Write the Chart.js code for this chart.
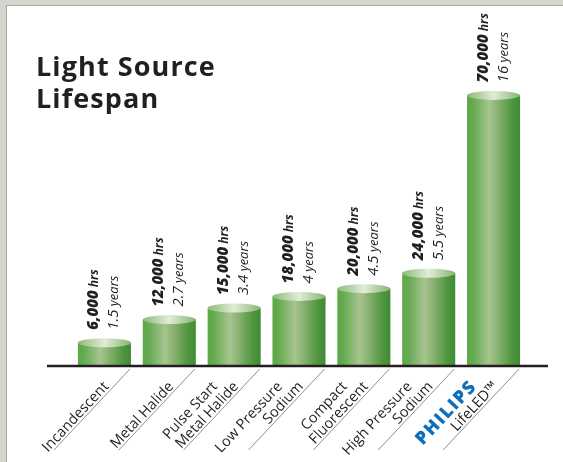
<!DOCTYPE html>
<html>
<head>
<meta charset="utf-8">
<script src="https://cdn.jsdelivr.net/npm/chart.js@4"></script>
<style>
  html, body { margin: 0; padding: 0; }
  body { width: 563px; height: 462px; background: #d3d6cd; position: relative; overflow: hidden; }
  #panel {
    position: absolute; left: 6px; top: 5px; right: 0; bottom: 0;
    background: #fff; border-left: 1px solid #a7aaa3; border-top: 1px solid #a7aaa3;
  }
  #wrap { position: absolute; left: 0; top: 0; width: 563px; height: 462px; }
</style>
</head>
<body>
<div id="panel"></div>
<div id="wrap"><canvas id="chart" width="563" height="462"></canvas></div>
<script>
// data
const categories = [
    ['Incandescent'],
    ['Metal Halide'],
    ['Pulse Start', 'Metal Halide'],
    ['Low Pressure', 'Sodium'],
    ['Compact', 'Fluorescent'],
    ['High Pressure', 'Sodium'],
    ['PHILIPS', 'LifeLED™']
];
const hours = [6000, 12000, 15000, 18000, 20000, 24000, 70000];
const years = ['1.5', '2.7', '3.4', '4', '4.5', '5.5', '16'];
const titleLines = ['Light Source', 'Lifespan'];

const FONT = '"Open Sans", "Liberation Sans", sans-serif';
const ANGLE = -47 * Math.PI / 180;

// cylinders, baseline, value labels, category labels, title
const decorPlugin = {
    id: 'decor',
    afterDatasetsDraw(chart) {
        const ctx = chart.ctx;
        const meta = chart.getDatasetMeta(0);
        const base = chart.scales.y.getPixelForValue(0);

        meta.data.forEach((bar, i) => {
            const w = bar.width, left = bar.x - w / 2, top = bar.y;
            const g = ctx.createLinearGradient(left, 0, left + w, 0);
            g.addColorStop(0, '#5ca847');
            g.addColorStop(0.12, '#66ab51');
            g.addColorStop(0.42, '#a7c491');
            g.addColorStop(0.6, '#86b06e');
            g.addColorStop(0.85, '#4f953f');
            g.addColorStop(1, '#418b36');
            ctx.save();
            ctx.fillStyle = g;
            ctx.fillRect(left, top, w, base - top);
            // top ellipse
            const eg = ctx.createLinearGradient(left, 0, left + w, 0);
            eg.addColorStop(0, '#8cbb77');
            eg.addColorStop(0.5, '#e2ecd9');
            eg.addColorStop(1, '#86b471');
            ctx.fillStyle = eg;
            ctx.beginPath();
            ctx.ellipse(bar.x, top, w / 2, 4.5, 0, 0, Math.PI * 2);
            ctx.fill();
            ctx.restore();

            // value label, rotated
            ctx.save();
            ctx.fillStyle = '#231f20';
            ctx.textBaseline = 'alphabetic';
            ctx.textAlign = 'left';
            ctx.translate(bar.x - 6, top - 13);
            ctx.rotate(-Math.PI / 2);
            const num = hours[i].toLocaleString('en-US');
            ctx.font = 'italic 800 15px ' + FONT;
            ctx.fillText(num, 0, 0);
            let nw = ctx.measureText(num).width;
            ctx.font = 'italic bold 12px ' + FONT;
            ctx.fillText(' hrs', nw, 0);
            ctx.restore();

            ctx.save();
            ctx.fillStyle = '#231f20';
            ctx.translate(bar.x + 14, top - 13);
            ctx.rotate(-Math.PI / 2);
            ctx.font = 'italic 15px ' + FONT;
            ctx.fillText(years[i], 0, 0);
            nw = ctx.measureText(years[i]).width;
            ctx.font = 'italic 13px ' + FONT;
            ctx.fillText(' years', nw, 0);
            ctx.restore();

            // separator line
            const sx = left + w - 1, sy = base + 3;
            ctx.save();
            ctx.strokeStyle = '#8e8e8e';
            ctx.lineWidth = 1;
            ctx.beginPath();
            ctx.moveTo(sx, sy);
            ctx.lineTo(sx - 76, sy + 81);
            ctx.stroke();
            ctx.restore();

            // category label
            const lines = categories[i];
            const n = lines.length;
            lines.forEach((txt, k) => {
                const ex = bar.x + 5 - (n - 1 - k) * 21;
                const ey = base + 21;
                ctx.save();
                ctx.translate(ex, ey);
                ctx.rotate(ANGLE);
                ctx.textAlign = 'right';
                ctx.textBaseline = 'alphabetic';
                if (txt === 'PHILIPS') {
                    ctx.fillStyle = '#0b6fbe';
                    ctx.font = '800 18px ' + FONT;
                    ctx.letterSpacing = '1.5px';
                } else {
                    ctx.fillStyle = '#231f20';
                    ctx.font = '14.5px ' + FONT;
                }
                ctx.fillText(txt, 0, 0);
                ctx.restore();
            });
        });

        // baseline
        ctx.save();
        ctx.strokeStyle = '#231f20';
        ctx.lineWidth = 2.5;
        ctx.beginPath();
        ctx.moveTo(47, base);
        ctx.lineTo(548, base);
        ctx.stroke();
        ctx.restore();

        // title
        ctx.save();
        ctx.fillStyle = '#231f20';
        ctx.font = 'bold 27px ' + FONT;
        ctx.letterSpacing = '1.1px';
        ctx.textBaseline = 'alphabetic';
        titleLines.forEach((t, k) => ctx.fillText(t, 36, 76 + k * 32));
        ctx.restore();
    }
};

new Chart(document.getElementById('chart'), {
    type: 'bar',
    data: {
        labels: categories.map(c => c.join(' ')),
        datasets: [{
            data: hours,
            backgroundColor: 'rgba(0,0,0,0)',
            barPercentage: 0.818,
            categoryPercentage: 1
        }]
    },
    options: {
        responsive: false,
        animation: false,
        layout: { padding: { left: 72, right: 37, top: 20, bottom: 96 } },
        plugins: { legend: { display: false }, tooltip: { enabled: false } },
        scales: {
            x: { display: false },
            y: { display: false, min: 0, max: 89500 }
        }
    },
    plugins: [decorPlugin]
});
</script>
</body>
</html>
